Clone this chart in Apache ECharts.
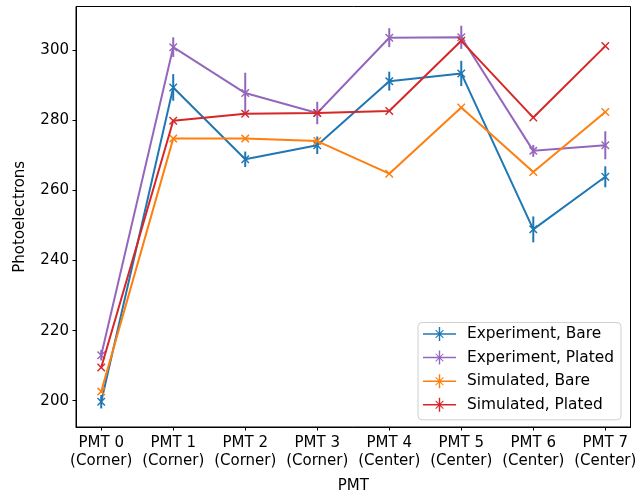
<!DOCTYPE html>
<html>
<head>
<meta charset="utf-8">
<script src="https://cdn.jsdelivr.net/npm/echarts@6/dist/echarts.min.js"></script>
<style>
html,body{margin:0;padding:0;background:#fff;}
#chart{width:636px;height:496px;}
</style>
</head>
<body>
<div id="chart"></div>
<script>
// ---- data ----
const categories = ["PMT 0\n(Corner)", "PMT 1\n(Corner)", "PMT 2\n(Corner)", "PMT 3\n(Corner)",
                    "PMT 4\n(Center)", "PMT 5\n(Center)", "PMT 6\n(Center)", "PMT 7\n(Center)"];
const seriesNames = ["Experiment, Bare", "Experiment, Plated", "Simulated, Bare", "Simulated, Plated"];
const expBare      = [199.7, 289.4, 268.9, 272.9, 291.2, 293.4, 248.9, 263.9];
const expBareErr   = [1.9, 3.8, 2.2, 2.5, 2.7, 3.6, 3.7, 3.0];
const expPlated    = [213.0, 300.9, 287.8, 282.1, 303.6, 303.7, 271.3, 272.9];
const expPlatedErr = [1.5, 2.8, 5.8, 3.2, 2.7, 3.3, 1.7, 4.0];
const simBare      = [202.6, 274.8, 274.8, 274.1, 264.8, 283.7, 265.3, 282.4];
const simBareErr   = [0, 0, 0, 0, 0, 0, 0, 0];
const simPlated    = [209.5, 279.9, 281.9, 282.1, 282.7, 302.7, 280.8, 301.2];
const simPlatedErr = [0, 0, 0, 0, 0, 0, 0, 0];
const yTicks = [200, 220, 240, 260, 280, 300];
const xTicks = [0, 1, 2, 3, 4, 5, 6, 7];

const colors = ["#1f77b4", "#9467bd", "#ff7f0e", "#d62728"];
const values = [expBare, expPlated, simBare, simPlated];
const errors = [expBareErr, expPlatedErr, simBareErr, simPlatedErr];

const xMarker = "path://M0,1.2 L1.2,0 L5,3.8 L8.8,0 L10,1.2 L6.2,5 L10,8.8 L8.8,10 L5,6.2 L1.2,10 L0,8.8 L3.8,5 Z";
// legend icon: horizontal line + vertical errorbar + x marker (33 x 14 box)
const legendIcon = "path://M0,6.25 L33,6.25 L33,7.75 L0,7.75 Z " +
  "M15.8,0 L17.2,0 L17.2,14 L15.8,14 Z " +
  "M12.3,3.5 L13,2.8 L20.7,10.5 L20,11.2 Z " +
  "M20,2.8 L20.7,3.5 L13,11.2 L12.3,10.5 Z";

const font = "DejaVu Sans";
const fs = 15;
const series = [];
for (let s = 0; s < 4; s++) {
  const pts = xTicks.map((x, i) => [x, values[s][i]]);
  series.push({
    name: seriesNames[s],
    type: 'line',
    data: pts,
    symbol: xMarker,
    symbolSize: 8.5,
    showSymbol: true,
    lineStyle: {color: colors[s], width: 2},
    itemStyle: {color: colors[s]},
    z: 3 + s * 2,
    animation: false
  });
  const ebData = xTicks.map((x, i) => [x, values[s][i] - errors[s][i], values[s][i] + errors[s][i]]);
  series.push({
    name: 'eb' + s,
    type: 'custom',
    data: ebData,
    z: 2 + s * 2,
    animation: false,
    renderItem: function (params, api) {
      const lo = api.coord([api.value(0), api.value(1)]);
      const hi = api.coord([api.value(0), api.value(2)]);
      return {
        type: 'line',
        shape: {x1: lo[0], y1: lo[1], x2: hi[0], y2: hi[1]},
        style: {stroke: colors[s], lineWidth: 2}
      };
    }
  });
}

const chart = echarts.init(document.getElementById('chart'), null, {renderer: 'canvas'});
chart.setOption({
  animation: false,
  backgroundColor: '#fff',
  textStyle: {fontFamily: font},
  grid: {left: 76, right: 5.5, top: 6.5, bottom: 69, show: true, borderColor: '#000', borderWidth: 1,
         backgroundColor: 'transparent', containLabel: false, outerBoundsMode: 'none'},
  xAxis: {
    type: 'value',
    min: -0.35, max: 7.35,
    name: 'PMT', nameLocation: 'middle', nameGap: 52,
    nameTextStyle: {color: '#000', fontSize: fs, fontFamily: font},
    axisLine: {show: true, onZero: false, lineStyle: {color: '#000', width: 1}},
    axisTick: {show: true, length: 3.5, lineStyle: {color: '#000', width: 1}, customValues: xTicks},
    axisLabel: {
      customValues: xTicks, margin: 7, color: '#000', fontSize: fs, fontFamily: font, lineHeight: 18,
      formatter: v => categories[Math.round(v)]
    },
    splitLine: {show: false}
  },
  yAxis: {
    type: 'value',
    min: 192.5, max: 312.5,
    name: 'Photoelectrons', nameLocation: 'middle', nameGap: 48.5, nameRotate: 90,
    nameTextStyle: {color: '#000', fontSize: fs, fontFamily: font},
    axisLine: {show: true, onZero: false, lineStyle: {color: '#000', width: 1}},
    axisTick: {show: true, length: 3.5, lineStyle: {color: '#000', width: 1}, customValues: yTicks},
    axisLabel: {customValues: yTicks, margin: 7, color: '#000', fontSize: fs, fontFamily: font},
    splitLine: {show: false}
  },
  legend: {
    orient: 'vertical',
    left: 418, top: 322.5,
    itemWidth: 33, itemHeight: 14, itemGap: 8.6,
    padding: [4, 7, 7.5, 5],
    itemStyle: {borderWidth: 0},
    lineStyle: {width: 0},
    backgroundColor: 'rgba(255,255,255,0.8)',
    borderColor: '#d0d0d0', borderWidth: 1, borderRadius: 4,
    textStyle: {color: '#000', fontSize: 15.4, fontFamily: font, padding: [0, 0, 0, 6], lineHeight: 15},
    data: seriesNames.map(n => ({name: n, icon: legendIcon}))
  },
  series: series
});
</script>
</body>
</html>
